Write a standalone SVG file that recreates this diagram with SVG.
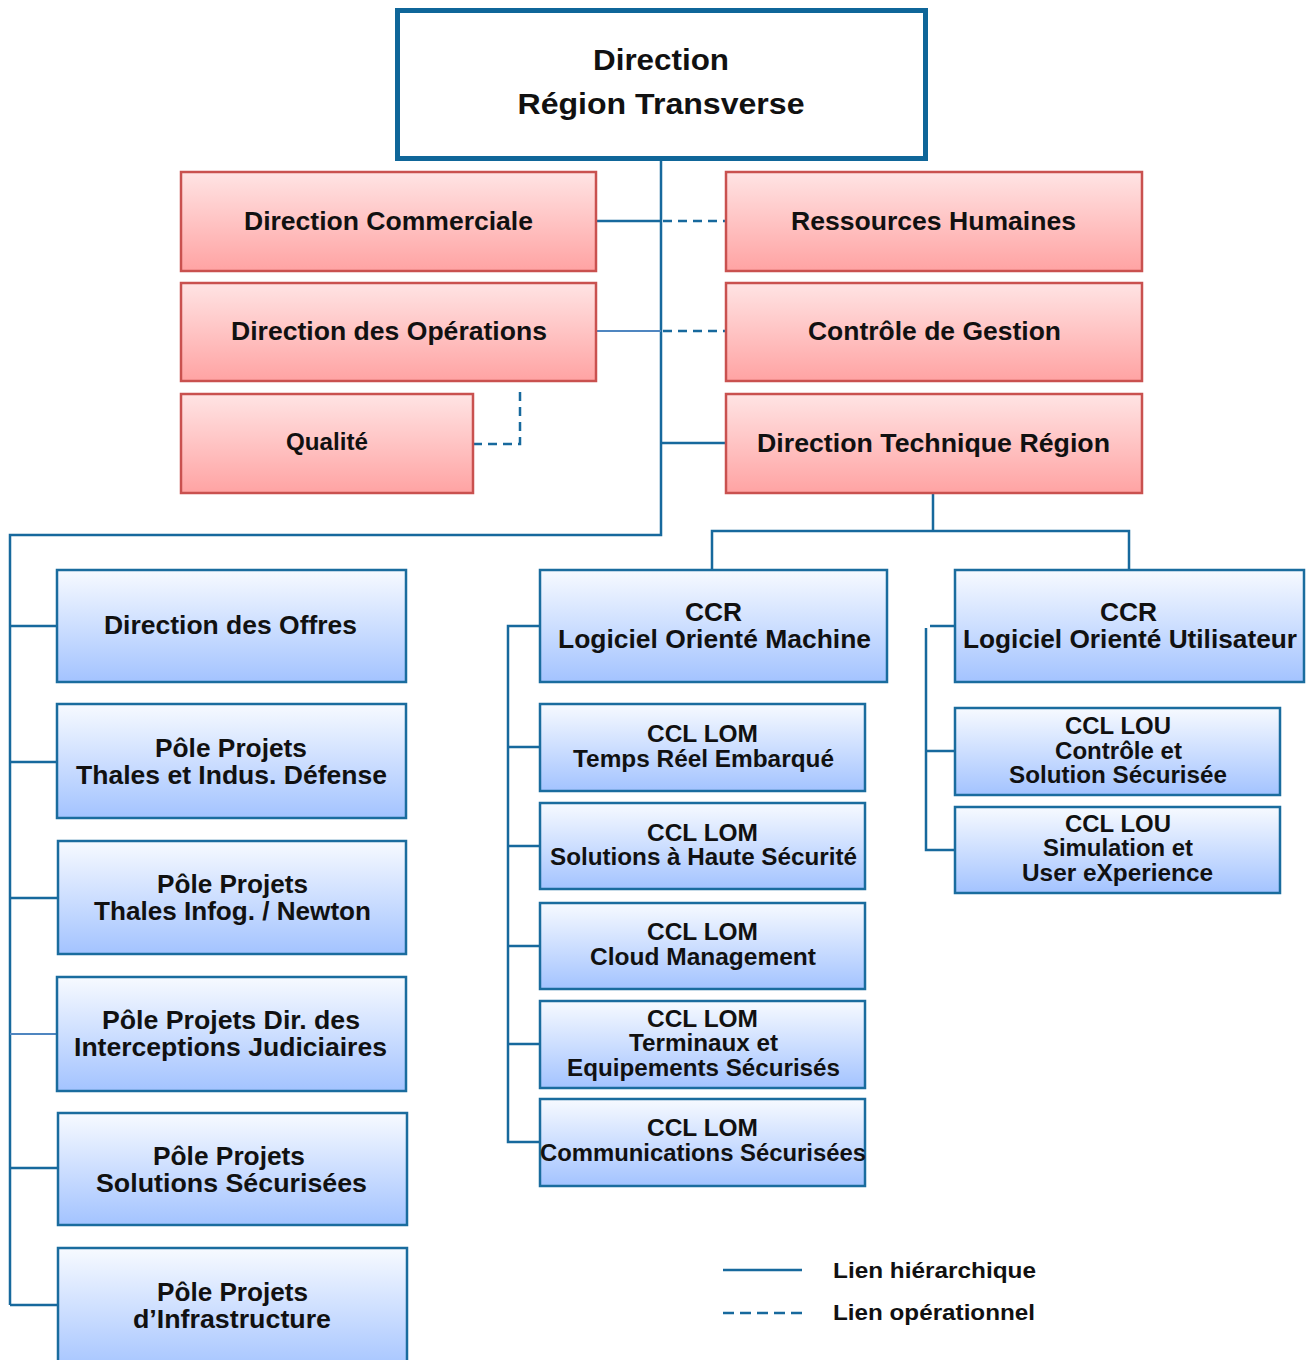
<svg xmlns="http://www.w3.org/2000/svg" width="1314" height="1360" viewBox="0 0 1314 1360">
<defs>
<linearGradient id="gRed" x1="0" y1="0" x2="0" y2="1">
<stop offset="0" stop-color="#FFE4E4"/>
<stop offset="1" stop-color="#FFA3A3"/>
</linearGradient>
<linearGradient id="gBlue" x1="0" y1="0" x2="0" y2="1">
<stop offset="0" stop-color="#F7FAFF"/>
<stop offset="1" stop-color="#A3C3FF"/>
</linearGradient>
</defs>
<style>
.top{fill:#FFFFFF;stroke:#0F6699;stroke-width:5}
.red{fill:url(#gRed);stroke:#C9514F;stroke-width:2.5}
.blue{fill:url(#gBlue);stroke:#1A6C9E;stroke-width:2.5}
text{font-family:"Liberation Sans",Arial,sans-serif;font-weight:bold;fill:#111111;text-anchor:middle}
.t25{font-size:25px}
.t24{font-size:23px}
.t30{font-size:29px}
.lg{font-size:22px;text-anchor:start}
.ln{fill:none;stroke:#17699D;stroke-width:2.5}
.ln2{fill:none;stroke:#4F86C0;stroke-width:2}
.dash{fill:none;stroke:#17699D;stroke-width:2.5;stroke-dasharray:9 6}
</style>
<rect width="1314" height="1360" fill="#FFFFFF"/>

<g id="connectors">
<path class="ln" d="M661 161 V535 H10 V1305"/>
<path class="ln" d="M596 221 H661"/>
<path class="ln2" d="M596 331 H661"/>
<path class="ln" d="M661 443 H726"/>
<path class="dash" d="M663 221 H726"/>
<path class="dash" d="M663 331 H726"/>
<path class="dash" d="M473 444 H520 V390"/>
<path class="ln" d="M10 626 H57"/>
<path class="ln" d="M10 762 H57"/>
<path class="ln" d="M10 898 H58"/>
<path class="ln2" d="M10 1034 H57"/>
<path class="ln" d="M10 1168 H58"/>
<path class="ln" d="M10 1305 H58"/>
<path class="ln" d="M933 493 V531 M712 570 V531 H1129 V570"/>
<path class="ln" d="M540 626 H508 V1142 H540 M508 747 H540 M508 846 H540 M508 946 H540 M508 1044 H540"/>
<path class="ln" d="M955 626 H930 M926 628 V850 H955 M926 751 H955"/>
</g>

<g id="n-direction">
<rect class="top" x="397.5" y="10.5" width="528" height="148"/>
<text class="t30" x="661" y="70" textLength="136" lengthAdjust="spacingAndGlyphs">Direction</text>
<text class="t30" x="661" y="114" textLength="287" lengthAdjust="spacingAndGlyphs">Région Transverse</text>
</g>

<g id="n-commerciale">
<rect class="red" x="181" y="172" width="415" height="99"/>
<text class="t25" x="388.5" y="230" textLength="289" lengthAdjust="spacingAndGlyphs">Direction Commerciale</text>
</g>
<g id="n-operations">
<rect class="red" x="181" y="283" width="415" height="98"/>
<text class="t25" x="389" y="340" textLength="316" lengthAdjust="spacingAndGlyphs">Direction des Opérations</text>
</g>
<g id="n-qualite">
<rect class="red" x="181" y="394" width="292" height="99"/>
<text class="t24" x="327" y="450" textLength="82" lengthAdjust="spacingAndGlyphs">Qualité</text>
</g>
<g id="n-rh">
<rect class="red" x="726" y="172" width="416" height="99"/>
<text class="t25" x="933.5" y="230" textLength="285" lengthAdjust="spacingAndGlyphs">Ressources Humaines</text>
</g>
<g id="n-gestion">
<rect class="red" x="726" y="283" width="416" height="98"/>
<text class="t25" x="934.5" y="340" textLength="253" lengthAdjust="spacingAndGlyphs">Contrôle de Gestion</text>
</g>
<g id="n-technique">
<rect class="red" x="726" y="394" width="416" height="99"/>
<text class="t25" x="933.5" y="452" textLength="353" lengthAdjust="spacingAndGlyphs">Direction Technique Région</text>
</g>

<g id="n-offres">
<rect class="blue" x="57" y="570" width="349" height="112"/>
<text class="t25" x="230.5" y="634" textLength="253" lengthAdjust="spacingAndGlyphs">Direction des Offres</text>
</g>
<g id="n-pp-thales-indus">
<rect class="blue" x="57" y="704" width="349" height="114"/>
<text class="t25" x="231" y="757" textLength="152" lengthAdjust="spacingAndGlyphs">Pôle Projets</text>
<text class="t25" x="231.5" y="784" textLength="311" lengthAdjust="spacingAndGlyphs">Thales et Indus. Défense</text>
</g>
<g id="n-pp-newton">
<rect class="blue" x="58" y="841" width="348" height="113"/>
<text class="t25" x="232.5" y="893" textLength="151" lengthAdjust="spacingAndGlyphs">Pôle Projets</text>
<text class="t25" x="232.5" y="920" textLength="277" lengthAdjust="spacingAndGlyphs">Thales Infog. / Newton</text>
</g>
<g id="n-pp-interceptions">
<rect class="blue" x="57" y="977" width="349" height="114"/>
<text class="t25" x="231" y="1029" textLength="258" lengthAdjust="spacingAndGlyphs">Pôle Projets Dir. des</text>
<text class="t25" x="230.5" y="1056" textLength="313" lengthAdjust="spacingAndGlyphs">Interceptions Judiciaires</text>
</g>
<g id="n-pp-solutions">
<rect class="blue" x="58" y="1113" width="349" height="112"/>
<text class="t25" x="229" y="1165" textLength="152" lengthAdjust="spacingAndGlyphs">Pôle Projets</text>
<text class="t25" x="231.5" y="1192" textLength="271" lengthAdjust="spacingAndGlyphs">Solutions Sécurisées</text>
</g>
<g id="n-pp-infra">
<rect class="blue" x="58" y="1248" width="349" height="125"/>
<text class="t25" x="232.5" y="1301" textLength="151" lengthAdjust="spacingAndGlyphs">Pôle Projets</text>
<text class="t25" x="232" y="1328" textLength="198" lengthAdjust="spacingAndGlyphs">d’Infrastructure</text>
</g>

<g id="n-ccr-lom">
<rect class="blue" x="540" y="570" width="347" height="112"/>
<text class="t25" x="713.5" y="621" textLength="57" lengthAdjust="spacingAndGlyphs">CCR</text>
<text class="t25" x="714.5" y="648" textLength="313" lengthAdjust="spacingAndGlyphs">Logiciel Orienté Machine</text>
</g>
<g id="n-ccr-lou">
<rect class="blue" x="955" y="570" width="349" height="112"/>
<text class="t25" x="1128.5" y="621" textLength="57" lengthAdjust="spacingAndGlyphs">CCR</text>
<text class="t25" x="1130" y="648" textLength="334" lengthAdjust="spacingAndGlyphs">Logiciel Orienté Utilisateur</text>
</g>

<g id="n-lom-temps-reel">
<rect class="blue" x="540" y="704" width="325" height="87"/>
<text class="t24" x="702.5" y="742" textLength="111" lengthAdjust="spacingAndGlyphs">CCL LOM</text>
<text class="t24" x="703.5" y="767" textLength="261" lengthAdjust="spacingAndGlyphs">Temps Réel Embarqué</text>
</g>
<g id="n-lom-haute-securite">
<rect class="blue" x="540" y="803" width="325" height="86"/>
<text class="t24" x="702.5" y="841" textLength="111" lengthAdjust="spacingAndGlyphs">CCL LOM</text>
<text class="t24" x="703.5" y="865" textLength="307" lengthAdjust="spacingAndGlyphs">Solutions à Haute Sécurité</text>
</g>
<g id="n-lom-cloud">
<rect class="blue" x="540" y="903" width="325" height="86"/>
<text class="t24" x="702.5" y="940" textLength="111" lengthAdjust="spacingAndGlyphs">CCL LOM</text>
<text class="t24" x="703" y="965" textLength="226" lengthAdjust="spacingAndGlyphs">Cloud Management</text>
</g>
<g id="n-lom-terminaux">
<rect class="blue" x="540" y="1001" width="325" height="87"/>
<text class="t24" x="702.5" y="1027" textLength="111" lengthAdjust="spacingAndGlyphs">CCL LOM</text>
<text class="t24" x="703.5" y="1051" textLength="149" lengthAdjust="spacingAndGlyphs">Terminaux et</text>
<text class="t24" x="703.5" y="1076" textLength="273" lengthAdjust="spacingAndGlyphs">Equipements Sécurisés</text>
</g>
<g id="n-lom-communications">
<rect class="blue" x="540" y="1099" width="325" height="87"/>
<text class="t24" x="702.5" y="1136" textLength="111" lengthAdjust="spacingAndGlyphs">CCL LOM</text>
<text class="t24" x="703" y="1161" textLength="326" lengthAdjust="spacingAndGlyphs">Communications Sécurisées</text>
</g>

<g id="n-lou-controle">
<rect class="blue" x="955" y="708" width="325" height="87"/>
<text class="t24" x="1118" y="734" textLength="106" lengthAdjust="spacingAndGlyphs">CCL LOU</text>
<text class="t24" x="1118.5" y="759" textLength="127" lengthAdjust="spacingAndGlyphs">Contrôle et</text>
<text class="t24" x="1118" y="783" textLength="218" lengthAdjust="spacingAndGlyphs">Solution Sécurisée</text>
</g>
<g id="n-lou-simulation">
<rect class="blue" x="955" y="807" width="325" height="86"/>
<text class="t24" x="1118" y="832" textLength="106" lengthAdjust="spacingAndGlyphs">CCL LOU</text>
<text class="t24" x="1118" y="856" textLength="150" lengthAdjust="spacingAndGlyphs">Simulation et</text>
<text class="t24" x="1117.5" y="881" textLength="191" lengthAdjust="spacingAndGlyphs">User eXperience</text>
</g>

<g id="legend">
<path class="ln" d="M723 1270 H802"/>
<path class="dash" d="M723 1313 H802" style="stroke-dasharray:11 6"/>
<text class="lg" x="833" y="1278" textLength="203" lengthAdjust="spacingAndGlyphs">Lien hiérarchique</text>
<text class="lg" x="833" y="1320" textLength="202" lengthAdjust="spacingAndGlyphs">Lien opérationnel</text>
</g>
</svg>
